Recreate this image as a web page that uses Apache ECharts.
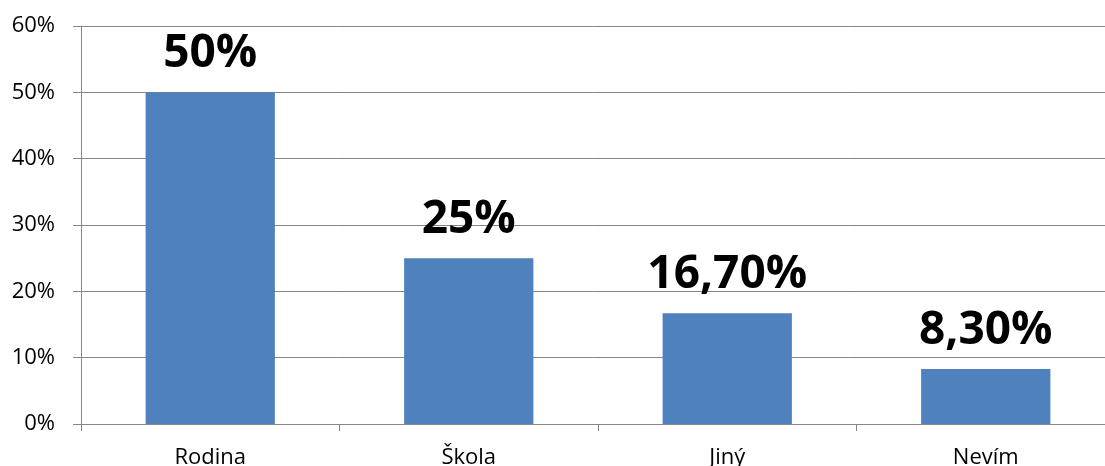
<!DOCTYPE html>
<html><head><meta charset="utf-8">
<script src="https://cdn.jsdelivr.net/npm/echarts@6/dist/echarts.min.js"></script>
<style>html,body{margin:0;padding:0;background:#fff;overflow:hidden}#c{width:1105px;height:466px}</style>
</head><body><div id="c"></div>
<script>
const categories = ["Rodina", "Škola", "Jiný", "Nevím"];
const values = [50, 25, 16.7, 8.3];
const valueLabels = ["50%", "25%", "16,70%", "8,30%"];
const yTicks = [0, 10, 20, 30, 40, 50, 60];

const chart = echarts.init(document.getElementById('c'), null, {renderer: 'canvas'});
chart.setOption({
  animation: false,
  grid: {left: 81, width: 1034, top: 26, height: 398, containLabel: false, outerBoundsMode: 'none'},
  xAxis: {
    type: 'category', data: categories,
    axisLine: {lineStyle: {color: '#868686', width: 1}},
    axisTick: {show: true, length: 7, lineStyle: {color: '#868686'}},
    axisLabel: {color: '#000', fontSize: 22, fontFamily: 'Open Sans, Liberation Sans, sans-serif', margin: 23}
  },
  yAxis: {
    type: 'value', min: yTicks[0], max: yTicks[yTicks.length - 1], interval: 10,
    axisLine: {show: true, lineStyle: {color: '#868686'}},
    axisTick: {show: true, inside: false, length: 8, lineStyle: {color: '#868686'}},
    splitLine: {lineStyle: {color: '#868686', width: 1}},
    axisLabel: {color: '#000', fontSize: 22, fontFamily: 'Open Sans, Liberation Sans, sans-serif', margin: 26,
      formatter: v => v + '%'}
  },
  series: [{
    type: 'bar', data: values, barWidth: '50%',
    itemStyle: {color: '#4F81BD'},
    label: {show: true, position: 'top', distance: 15, color: '#000', fontSize: 46, fontWeight: 'bold',
      fontFamily: 'Open Sans, Liberation Sans, sans-serif',
      formatter: p => valueLabels[p.dataIndex]}
  }]
});
</script></body></html>
